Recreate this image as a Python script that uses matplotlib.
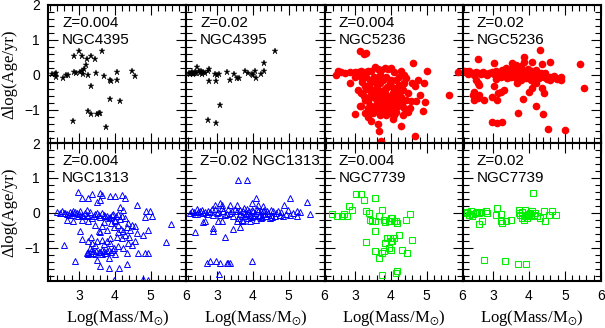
import matplotlib
matplotlib.use("Agg")
import matplotlib.pyplot as plt
from matplotlib.ticker import MultipleLocator

# NGC4395, Z=0.004
x_4395_z004 = [2.86, 3.00, 3.10, 3.22, 3.21, 3.33, 3.44, 3.65,
               2.26, 2.34, 2.37, 2.36, 2.56, 2.65, 2.71, 2.86, 2.91, 3.03, 3.10, 3.12, 3.14,
               3.25, 3.49, 3.70, 3.86, 3.90, 4.07, 4.07, 4.48, 4.58,
               3.35, 3.88, 4.16, 3.26, 3.33, 3.51, 3.56, 3.60, 2.85, 3.76]
y_4395_z004 = [0.54, 0.67, 0.54, 0.45, 0.29, 0.54, 0.45, 0.67,
               0.02, 0.02, 0.05, -0.05, -0.08, 0.00, 0.00, 0.07, 0.05, 0.08, 0.10, 0.02, 0.16,
               0.00, 0.05, -0.03, -0.14, -0.17, 0.08, -0.14, 0.10, -0.03,
               -0.33, -0.69, -0.74, -1.02, -1.12, -1.11, -1.09, -1.08, -1.31, -1.48]

# NGC4395, Z=0.02
x_4395_z02 = [2.22, 2.26, 2.31, 2.36, 2.40, 2.45, 2.49, 2.56, 2.61, 2.68,
              2.74, 2.79, 2.96, 3.00, 3.07, 3.28, 3.36, 3.48, 3.56, 3.62,
              3.79, 3.88, 3.98, 4.02, 4.07, 4.09, 4.23, 4.32, 4.32, 4.62,
              2.77, 2.98, 3.10, 2.74, 2.98,
              2.28, 2.33, 2.43, 2.52, 2.58]
y_4395_z02 = [0.05, 0.02, 0.07, 0.05, 0.07, 0.22, 0.10, 0.12, 0.07, 0.05,
              0.10, 0.16, 0.03, 0.00, 0.02, 0.07, -0.14, 0.02, -0.10, -0.08,
              0.12, 0.05, 0.02, 0.00, 0.12, -0.10, 0.03, 0.33, 0.10, 0.69,
              -0.17, -0.17, -0.86, -1.29, -1.38,
              0.04, 0.03, 0.04, 0.06, 0.03]

# NGC5236, Z=0.004
x_5236_z004 = [3.13, 3.25, 3.32, 4.61, 2.48, 2.53, 2.60, 2.85, 2.85, 2.99, 3.09, 3.18, 3.27, 3.36,
               3.46, 3.55, 3.64, 3.73, 3.83, 3.92, 4.01, 4.10, 4.29, 4.38, 5.01, 5.86, 5.63,
               3.09, 3.18, 3.27, 3.41, 3.50, 3.60, 3.69, 3.73, 3.83, 3.92, 4.01, 4.10, 4.20,
               4.29, 4.38, 4.47, 4.57, 4.59, 4.75, 4.80, 4.92, 4.94, 4.89,
               2.99, 3.13, 3.29, 3.46, 3.64, 3.66, 3.73, 4.06, 4.29, 4.68,
               3.55, 3.78, 3.97, 4.15, 4.34, 3.36, 3.46, 3.60, 3.83, 4.01,
               3.27, 3.41, 3.53, 3.69, 3.87, 4.01, 4.15, 4.24, 4.34, 4.43, 4.52,
               3.64, 3.78, 3.92, 4.06, 4.15, 3.69, 3.87, 4.06, 4.24, 3.55, 3.46, 3.97, 3.78, 3.64,
               4.24, 4.43, 4.66, 4.71, 3.36, 3.18, 3.50, 3.69, 3.87, 4.10, 4.38, 4.47, 3.18, 3.32,
               2.99, 2.71,
               3.20, 3.30, 3.40, 3.50, 3.60, 3.70, 3.80, 3.90, 4.00, 4.10, 4.20, 4.30,
               3.25, 3.45, 3.65, 3.85, 4.05, 4.25, 3.35, 3.55, 3.75, 3.95, 4.15, 4.35]
y_5236_z004 = [0.67, 0.60, 0.64, 0.35, 0.00, 0.10, 0.07, 0.07, -0.22, 0.07, 0.07, 0.10, 0.07, 0.10,
               0.12, 0.22, 0.16, 0.14, 0.19, 0.16, 0.19, 0.07, 0.12, 0.00, 0.10, 0.07, -0.59,
               -0.43, -0.52, -0.71, -0.62, -0.43, -0.33, -0.24, -0.62, -0.52, -0.81, -0.33, -0.71, -0.90,
               -0.62, -0.24, -0.52, -0.76, -0.24, -0.14, -0.57, -0.24, -0.79, -1.02,
               -1.11, -0.88, -1.09, -1.33, -1.41, -1.62, -1.90, -1.27, -1.46, -1.74,
               -1.00, -1.05, -1.09, -1.05, -1.14, -0.95, -0.90, -0.86, -0.86, -0.90,
               -0.33, -0.14, -0.05, 0.00, -0.05, -0.14, -0.14, -0.29, -0.43, -0.71, -0.95,
               -0.52, -0.71, -0.62, -0.52, -0.38, -0.76, -0.95, -1.00, -0.76, -0.67, -0.48, -0.24, -0.14, -0.10,
               -0.05, -0.10, -0.33, -0.76, -0.76, -0.90, -1.09, -1.14, -1.14, -1.14, -0.95, -1.05, -0.05, -0.05,
               -0.05, 0.05,
               -0.20, -0.40, -0.30, -0.55, -0.80, -0.45, -0.70, -0.35, -0.60, -0.45, -0.55, -0.80,
               -0.60, -1.05, -0.95, -0.40, -0.80, -0.35, -1.20, -0.20, -0.85, -1.00, -0.65, -0.25]

# NGC5236, Z=0.02
x_5236_z02 = [2.57, 3.03, 3.54, 3.63, 3.86, 3.86, 4.09, 4.30, 4.37, 4.58, 5.41, 5.53,
              2.20, 2.24, 2.34, 2.43, 2.52, 2.61, 2.71, 2.80, 2.89, 2.98, 3.08, 3.17, 3.26, 3.31,
              3.35, 3.45, 3.49, 3.54, 3.59, 3.63, 3.68, 3.72, 3.77, 3.82, 3.86, 3.91, 3.96, 4.00,
              4.05, 4.09, 4.14, 4.19, 4.23, 4.28, 4.33, 4.42, 4.51, 4.60, 4.70, 4.79, 4.88, 4.88,
              4.60, 3.21, 3.40, 3.77,
              2.52, 2.57, 2.61, 2.47, 2.43, 2.61, 2.47, 2.57, 2.75, 3.03, 2.98, 3.08, 3.12, 3.21,
              3.31, 3.15, 3.84, 4.00, 4.09, 4.19, 4.37, 4.42, 4.21, 3.70, 4.39, 2.96, 3.10, 3.26,
              4.54, 5.00, 3.45, 3.68,
              2.30, 2.48, 2.66, 2.84, 3.02, 3.13, 3.22, 3.40, 3.50, 3.58, 3.66, 3.75, 3.80, 3.90,
              3.98, 4.07, 4.16, 4.25, 4.35, 4.45, 4.55, 4.65, 4.75, 3.35, 3.55, 3.70, 3.95, 4.12]
y_5236_z02 = [0.45, 0.35, 0.33, 0.29, 0.50, 0.38, 0.36, 0.71, 0.31, 0.38, 0.30, -0.38,
              0.12, 0.07, 0.10, 0.05, 0.07, 0.05, 0.07, 0.03, 0.05, 0.07, 0.10, 0.05, 0.14, 0.00,
              0.16, 0.10, -0.05, 0.19, 0.05, -0.10, 0.14, 0.00, 0.24, -0.05, 0.10, -0.10, 0.16, 0.00,
              -0.14, 0.10, -0.05, 0.14, 0.00, -0.10, 0.05, -0.05, -0.12, -0.05, -0.03, -0.12, -0.05, -0.16,
              -0.16, -0.05, -0.10, -0.14,
              -0.14, -0.24, -0.29, -0.48, -0.57, -0.57, -0.71, -0.67, -0.73, -0.33, -0.62, -0.12, -0.71, -0.48,
              -0.43, -0.52, -0.70, -0.48, -0.38, -0.24, -0.38, -0.52, -0.89, -1.10, -1.13, -1.36, -1.39, -1.34,
              -1.54, -1.58, -0.05, -0.24,
              0.02, 0.00, 0.02, 0.00, 0.03, -0.02, 0.08, 0.04, 0.12, -0.02, 0.06, -0.08, 0.12, 0.04,
              -0.04, 0.03, 0.06, -0.06, -0.02, 0.05, -0.08, -0.10, -0.08, 0.20, 0.24, 0.08, 0.10, -0.18]

# NGC1313, Z=0.004
x_1313_z004 = [2.97, 3.36, 3.60, 3.64, 3.60, 3.87, 4.01, 4.20, 4.29, 3.27, 3.09, 3.50,
               4.61, 4.15, 4.24, 4.86, 4.98, 5.03, 4.85, 5.56, 5.42, 2.60, 3.09, 2.90,
               2.48, 2.58, 2.67, 2.76, 2.85, 2.95, 3.04, 3.09, 3.18, 3.27, 3.36, 3.46, 3.55, 3.64,
               3.73, 3.83, 3.92, 4.01, 4.10, 4.20, 4.29, 4.38, 4.47, 4.57, 2.81, 2.99, 3.22,
               2.67, 2.85, 3.09, 3.27, 3.46, 3.64, 3.78, 3.97, 4.10, 4.24, 4.43, 4.61, 4.80, 4.94, 3.55, 3.04,
               3.27, 3.36, 3.46, 3.32, 3.41, 3.22, 3.55, 3.69, 3.83, 3.97, 4.10, 4.24, 4.38, 4.47, 4.57,
               4.66, 4.85, 4.94, 3.78, 3.87, 4.06, 4.20, 3.64, 4.34, 4.01, 3.50, 3.85, 3.27, 3.46, 3.64,
               3.85, 4.13, 4.35, 3.97, 4.80, 4.94, 3.60,
               2.40, 2.52, 2.62, 2.72, 2.80, 2.90, 3.00, 3.13, 3.23, 3.32, 3.42, 3.50, 3.60, 3.70,
               3.80, 3.88, 3.96, 4.05, 4.15,
               3.25, 3.33, 3.40, 3.48, 3.58, 3.66, 3.74, 3.80, 3.90, 3.95, 3.35, 3.52, 3.70, 3.88,
               3.90, 4.00, 4.08, 4.18, 4.28, 4.40, 3.70, 3.60, 4.35]
y_1313_z004 = [0.60, 0.54, 0.57, 0.52, 0.38, 0.47, 0.47, 0.50, 0.42, 0.44, 0.42, 0.31,
               0.23, 0.16, 0.09, 0.04, 0.06, -0.10, -0.13, -0.31, -0.84, -0.93, -0.74, -1.39,
               0.00, 0.00, -0.03, 0.02, 0.04, 0.00, 0.06, -0.05, 0.00, -0.10, -0.15, -0.03, -0.05, 0.00,
               -0.10, -0.15, -0.05, -0.24, -0.03, -0.10, -0.15, -0.29, -0.34, -0.39, -0.05, -0.10, 0.09,
               -0.20, -0.22, -0.20, -0.24, -0.34, -0.39, -0.48, -0.41, -0.34, -0.53, -0.48, -0.58, -0.62, -0.48, -0.53, -0.53,
               -0.81, -0.86, -0.91, -1.00, -1.10, -1.15, -1.13, -1.10, -1.05, -1.00, -0.96, -1.00, -0.86, -0.91, -0.81,
               -1.15, -1.15, -1.15, -0.81, -0.72, -0.70, -0.72, -0.77, -1.15, -1.19, -1.34, -1.29, -1.19, -1.18, -1.19,
               -1.58, -1.58, -1.46, -1.91, -1.88, -1.93, -1.53,
               0.02, 0.04, 0.00, -0.05, 0.00, 0.02, -0.03, -0.08, -0.05, 0.02, -0.10, 0.00, -0.12, -0.05,
               -0.08, -0.12, -0.02, -0.08, -0.18,
               -1.12, -1.08, -1.14, -1.10, -1.12, -1.06, -1.14, -1.08, -1.12, -1.06, -0.70, -0.80, -0.88, -0.85,
               -0.28, -0.20, -0.55, -0.45, -0.62, -0.70, -0.25, -0.55, -0.40]

# NGC1313, Z=0.02
x_1313_z02 = [3.60, 3.83, 4.08, 5.03, 5.51, 5.59, 4.86, 3.97, 4.15, 4.29, 3.09, 2.95, 3.13, 3.36,
              3.55, 5.22, 5.31, 4.98, 2.44,
              2.25, 2.35, 2.44, 2.53, 2.62, 2.72, 2.81, 2.90, 2.99, 3.09, 3.18, 3.27, 3.36, 3.46,
              3.55, 3.60, 3.64, 3.69, 3.73, 3.78, 3.83, 3.87, 3.92, 3.97, 4.01, 4.06, 4.10, 4.15,
              4.20, 4.24, 4.29, 4.34, 4.38, 4.43, 4.47, 4.52, 4.57, 4.61, 4.66, 4.75, 4.85, 4.94,
              5.03, 5.12, 5.22, 3.55, 3.73, 3.92,
              2.30, 2.40, 2.48, 2.58, 2.68, 2.76, 2.85, 2.95, 3.04, 3.14, 3.22, 3.32, 3.42, 3.50,
              3.65, 3.70, 3.76, 3.80, 3.85, 3.90, 3.95, 4.00, 4.04, 4.12, 4.18, 4.22, 4.27, 4.32,
              4.40, 4.50, 4.55, 4.70, 4.80,
              2.39, 2.67, 2.62, 2.90, 2.90, 3.22, 3.46, 3.64, 2.72, 2.81, 2.97, 3.09, 3.27, 3.32,
              3.36, 3.97, 3.06, 3.04, 3.13]
y_1313_z02 = [0.95, 0.95, 0.44, 0.44, 0.31, -0.03, 0.23, 0.28, 0.23, 0.21, 0.28, 0.23, 0.23, 0.23,
              0.23, 0.06, 0.02, 0.09, 0.12,
              0.00, 0.02, -0.03, 0.04, 0.00, -0.03, 0.02, -0.05, 0.00, -0.07, 0.04, -0.03, 0.00, -0.10,
              0.04, -0.15, -0.03, -0.19, 0.06, -0.10, 0.00, -0.15, -0.05, 0.09, -0.10, 0.00, -0.19, 0.04,
              -0.05, -0.15, 0.06, -0.03, -0.10, 0.00, -0.15, -0.05, 0.06, -0.10, 0.00, -0.05, -0.10, -0.03,
              -0.07, 0.00, -0.10, -0.24, -0.24, -0.22,
              0.06, -0.02, 0.03, 0.08, 0.02, 0.05, 0.10, 0.12, 0.02, 0.15, -0.05, 0.10, 0.05, 0.12,
              0.08, -0.08, 0.15, -0.02, 0.12, 0.04, -0.12, 0.06, -0.05, 0.10, -0.08, 0.04, -0.12, 0.08,
              0.05, 0.08, -0.12, 0.05, 0.03,
              -0.55, -0.24, -0.26, -0.43, -0.51, -0.69, -0.45, -0.40, -1.43, -1.39, -1.39, -1.43, -1.43, -1.43,
              -1.43, -1.39, -1.74, -0.24, -0.24]

# NGC7739, Z=0.004
x_7739_z004 = [2.37, 2.51, 2.65, 2.69, 2.79, 2.83, 2.93, 3.02, 3.16, 3.25, 3.30, 3.39,
               3.43, 3.48, 3.57, 3.57, 3.66, 3.76, 3.80, 3.85, 3.94, 4.04, 4.08, 4.18,
               3.99, 4.13, 4.08, 3.99, 4.04, 4.22, 4.41, 4.53, 4.59, 4.31, 4.45, 4.13,
               3.57, 3.30, 3.57, 3.76, 3.80, 3.85, 3.89, 3.97, 3.94, 3.66, 3.76, 4.18, 3.99]
y_7739_z004 = [-0.03, -0.10, -0.10, -0.03, -0.10, 0.19, 0.09, 0.54, 0.54, 0.38, 0.04, 0.00,
               -0.19, -0.24, 0.42, -0.24, -0.10, 0.09, -0.19, -0.25, -0.24, -0.16, -0.24, -0.29,
               -0.15, -0.24, -0.72, -0.81, -0.81, -0.62, -0.19, -0.02, -0.79, -1.05, -1.15, -1.72,
               -0.53, -0.84, -1.10, -1.15, -1.10, -0.86, -0.72, -0.72, -1.00, -1.29, -1.77, -1.67, -1.05]

# NGC7739, Z=0.02
x_7739_z02 = [2.24, 2.33, 2.38, 2.42, 2.51, 2.61, 2.65, 2.79, 2.84, 3.07, 3.12, 3.21, 2.61, 2.70,
              3.21, 3.26, 3.35, 3.49, 3.72, 3.72, 3.76, 3.81, 3.86, 3.90, 3.95, 3.95, 4.04, 4.09,
              4.13, 4.18, 4.23, 4.32, 4.43, 4.46, 4.55, 4.64, 4.74, 4.12, 2.75, 3.33, 3.70, 3.93,
              2.20, 2.28, 2.45, 2.56, 3.80, 3.88, 4.00, 4.07]
y_7739_z02 = [0.00, -0.05, 0.04, -0.10, 0.00, 0.00, 0.02, 0.04, 0.00, -0.05, 0.14, -0.03, -0.32, -0.24,
              -0.24, -0.29, -0.24, -0.19, 0.09, 0.00, -0.05, -0.15, -0.19, 0.09, -0.05, -0.15, 0.00, 0.04,
              -0.05, 0.00, -0.10, -0.15, 0.06, -0.24, -0.05, 0.04, -0.07, 0.57, -1.34, -1.39, -1.45, -1.45,
              0.03, 0.02, -0.03, 0.03, 0.03, -0.08, -0.02, -0.10]

star = dict(marker="*", ms=5, mfc="black", mec="black", mew=0.3)
dot = dict(marker="o", ms=5.5, mfc="#ff0000", mec="#ff0000", mew=0)
tri = dict(marker="^", ms=4, mfc="none", mec="#0000ff", mew=0.7)
sq = dict(marker="s", ms=3.8, mfc="none", mec="#00ee00", mew=0.8)

panels = [
    (x_4395_z004, y_4395_z004, ["Z=0.004", "NGC4395"], star),
    (x_4395_z02, y_4395_z02, ["Z=0.02", "NGC4395"], star),
    (x_5236_z004, y_5236_z004, ["Z=0.004", "NGC5236"], dot),
    (x_5236_z02, y_5236_z02, ["Z=0.02", "NGC5236"], dot),
    (x_1313_z004, y_1313_z004, ["Z=0.004", "NGC1313"], tri),
    (x_1313_z02, y_1313_z02, ["Z=0.02 NGC1313"], tri),
    (x_7739_z004, y_7739_z004, ["Z=0.004", "NGC7739"], sq),
    (x_7739_z02, y_7739_z02, ["Z=0.02", "NGC7739"], sq),
]

plt.rcParams["font.family"] = ["Liberation Sans", "DejaVu Sans"]
plt.rcParams["mathtext.fontset"] = "stix"

W, H = 605, 328
fig, axes = plt.subplots(2, 4, figsize=(W / 100, H / 100), dpi=100, sharex=True, sharey=True)
fig.subplots_adjust(left=48.3 / W, right=600.7 / W, top=1 - 5 / H, bottom=1 - 281 / H,
                    wspace=0, hspace=0)

for ax, (x, y, lines, style) in zip(axes.flat, panels):
    ax.plot(x, y, ls="none", **style)
    ax.set_xlim(2.15, 6)
    ax.set_ylim(-1.95, 2)
    ax.xaxis.set_major_locator(MultipleLocator(1))
    ax.xaxis.set_minor_locator(MultipleLocator(0.2))
    ax.yaxis.set_major_locator(MultipleLocator(1))
    ax.yaxis.set_minor_locator(MultipleLocator(0.2))
    ax.tick_params(which="both", direction="in", top=True, right=True, width=0.8,
                   labelsize=10, pad=6)
    ax.tick_params(which="major", length=7)
    ax.tick_params(which="minor", length=4)
    for sp in ax.spines.values():
        sp.set_linewidth(1.5)
    for i, txt in enumerate(lines):
        ax.text(0.10, 1 - (22 + 17 * i) / 138, txt, transform=ax.transAxes,
                fontsize=11, va="baseline", ha="left")

for row in range(2):
    pos = axes[row, 0].get_position()
    fig.text(9 / W, (pos.y0 + pos.y1) / 2, "\u0394log(Age/yr)", rotation=90,
             ha="center", va="center", fontsize=12, family="Liberation Serif")

for col in range(4):
    pos = axes[1, col].get_position()
    fig.text((pos.x0 + pos.x1) / 2, 6 / H, r"Log(Mass/M$_{\odot}$)", ha="center",
             va="baseline", fontsize=12, family="Liberation Serif")

fig.savefig("out.png", dpi=100)
